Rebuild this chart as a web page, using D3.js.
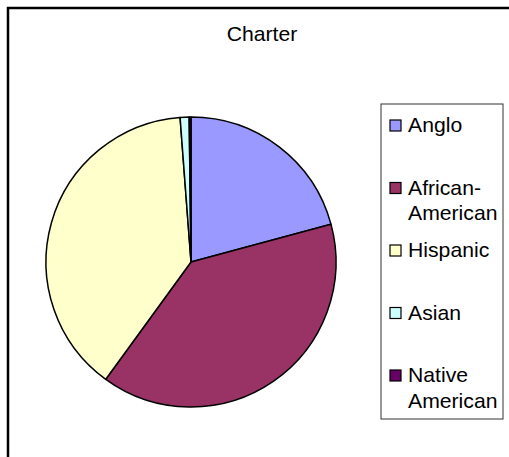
<!DOCTYPE html>
<html>
<head>
<meta charset="utf-8">
<script src="https://cdn.jsdelivr.net/npm/d3@7"></script>
<style>
  body { margin: 0; background: #fff; }
  text { font-family: Arial, "Liberation Sans", sans-serif; fill: #000; }
</style>
</head>
<body>
<div id="chart"></div>
<script>
// chart data
var categories = ["Anglo", "African-American", "Hispanic", "Asian", "Native American"];
var shares = [20.8, 39.2, 38.8, 1.0, 0.2];
var legendLabels = [["Anglo"], ["African-", "American"], ["Hispanic"], ["Asian"], ["Native", "American"]];
var colors = ["#9999ff", "#993366", "#ffffcc", "#ccffff", "#660066"];
var title = "Charter";

var width = 509, height = 457;
var cx = 191, cy = 262, radius = 145;
var stretch = 1.06; // text in the original is a bit wider than plain Arial

var svg = d3.select('#chart').append('svg')
    .attr('width', width)
    .attr('height', height);

// outer chart border (runs off the right and bottom edge)
svg.append('rect')
    .attr('x', 8).attr('y', 8)
    .attr('width', 600).attr('height', 600)
    .attr('fill', 'none')
    .attr('stroke', '#000')
    .attr('stroke-width', 2.5);

svg.append('text')
    .attr('transform', 'translate(262,41) scale(' + stretch + ',1)')
    .attr('text-anchor', 'middle')
    .style('font-size', '20px')
    .text(title);

var color = d3.scaleOrdinal().domain(categories).range(colors);

var pie = d3.pie().sort(null).value(function(d) { return d.value; });
var arc = d3.arc().innerRadius(0).outerRadius(radius);

var data = categories.map(function(c, i) { return {name: c, value: shares[i]}; });

var g = svg.append('g').attr('transform', 'translate(' + cx + ',' + cy + ')');
g.selectAll('path')
  .data(pie(data))
  .enter().append('path')
    .attr('d', arc)
    .attr('fill', function(d) { return color(d.data.name); })
    .attr('stroke', '#000')
    .attr('stroke-width', 1.5)
    .attr('stroke-linejoin', 'round');

// legend
svg.append('rect')
    .attr('x', 381).attr('y', 104)
    .attr('width', 122).attr('height', 315)
    .attr('fill', '#fff')
    .attr('stroke', '#333')
    .attr('stroke-width', 1);

var ly = d3.scalePoint().domain(categories).range([125.5, 375.5]);

var items = svg.selectAll('.legend-item')
  .data(categories)
  .enter().append('g')
    .attr('class', 'legend-item')
    .attr('transform', function(d) { return 'translate(0,' + ly(d) + ')'; });

items.append('rect')
    .attr('x', 390).attr('y', -5.5)
    .attr('width', 11).attr('height', 11)
    .attr('fill', function(d) { return color(d); })
    .attr('stroke', '#000')
    .attr('stroke-width', 1.2);

items.each(function(d, i) {
  var t = d3.select(this).append('text')
      .attr('transform', 'translate(408,6.5) scale(' + stretch + ',1)')
      .style('font-size', '20px');
  legendLabels[i].forEach(function(line, j) {
    t.append('tspan')
      .attr('x', 0)
      .attr('dy', j === 0 ? 0 : 26)
      .text(line);
  });
});
</script>
</body>
</html>
